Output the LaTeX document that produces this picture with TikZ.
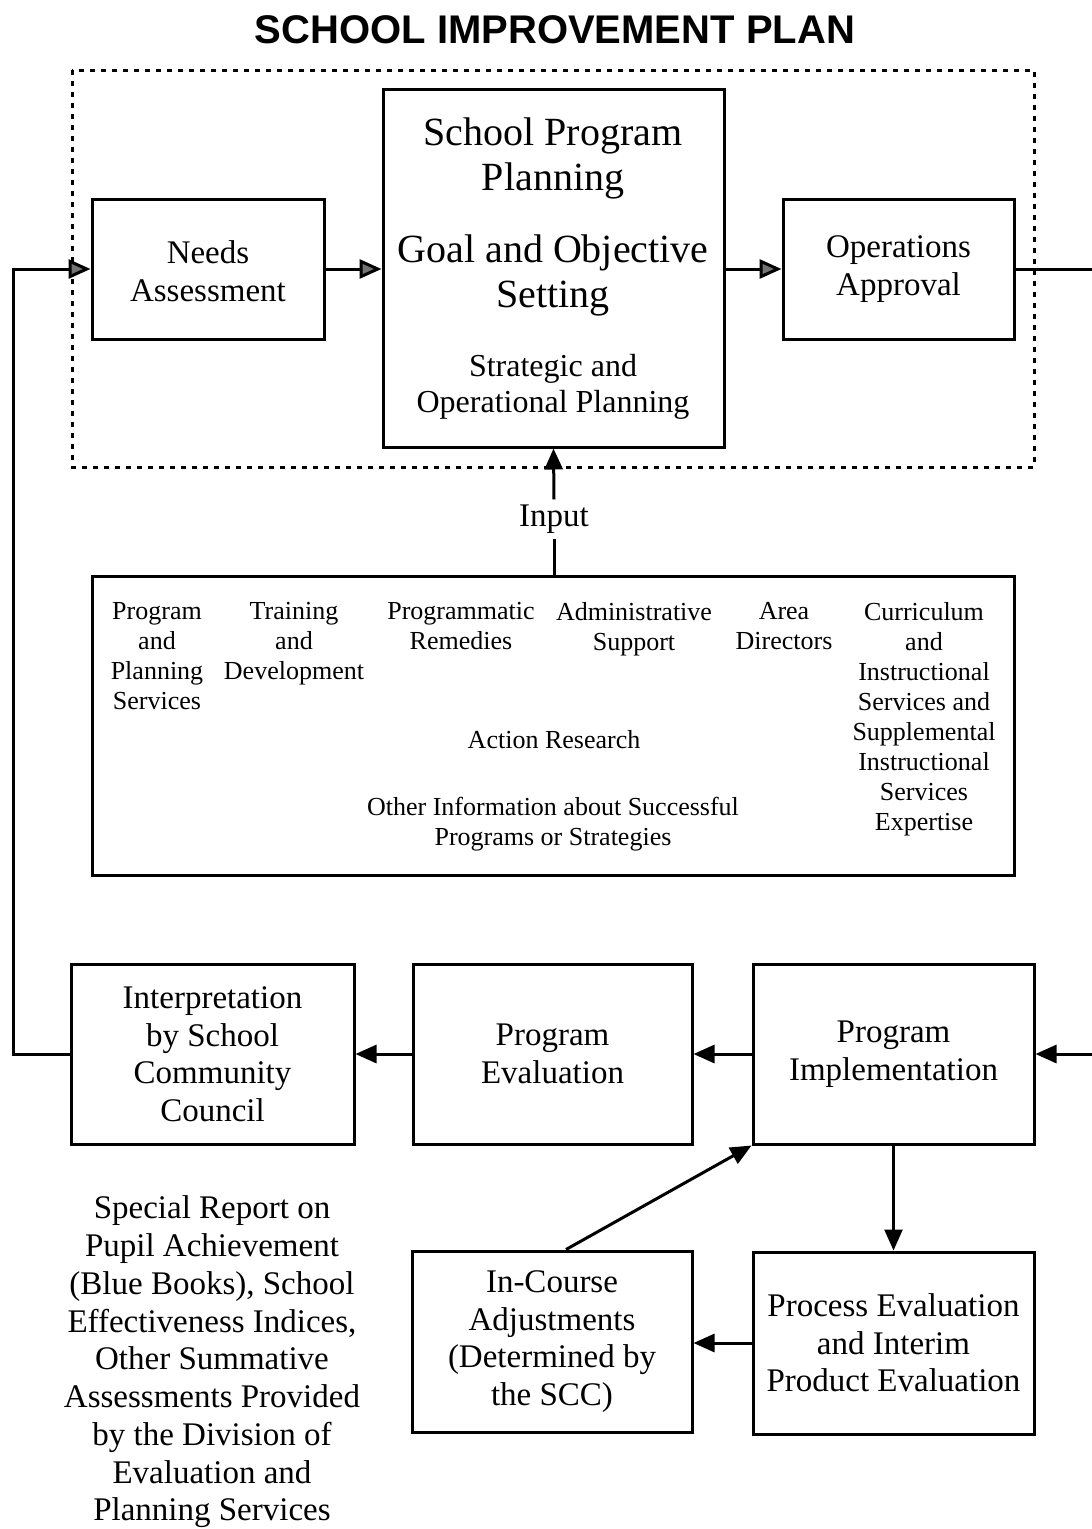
\documentclass[tikz,border=0pt]{standalone}
\usepackage{fontspec}
\setmainfont{Liberation Serif}
\setsansfont{Liberation Sans}
\usetikzlibrary{arrows.meta}
\begin{document}
\begin{tikzpicture}[x=1pt,y=-1pt,
  box/.style={draw,line width=3pt,inner sep=0pt,align=center,font=\fontsize{33}{37.5}\selectfont},
  arr/.style={line width=3pt,-{Triangle[length=21pt,width=18pt]}},
  arrg/.style={line width=3pt,-{Triangle[length=22pt,width=19pt,fill=black!55]}},
  coltext/.style={align=center,font=\fontsize{26}{30}\selectfont,anchor=north,inner sep=0pt},
  bigtext/.style={align=center,font=\fontsize{40}{45}\selectfont,inner sep=0pt},
  midtext/.style={align=center,font=\fontsize{32}{36}\selectfont,inner sep=0pt},
  plain/.style={align=center,font=\fontsize{33}{37.75}\selectfont,inner sep=0pt}]
\useasboundingbox (0,0) rectangle (1092,1529);

% title
\node[font=\fontsize{40}{48}\selectfont\sffamily\bfseries,inner sep=0pt] (title) at (555,30) {SCHOOL IMPROVEMENT PLAN};

% dotted frame
\draw[line width=3pt,dash pattern=on 5pt off 6pt] (72,70) rectangle (1034,467);

% top row
\node[box,minimum width=232pt,minimum height=140pt] (needs) at (208,269) {};
\node[box,draw=none] (needstext) at (208,271) {Needs\\Assessment};
\node[box,minimum width=341pt,minimum height=358pt] (main) at (553.5,268) {};
\node[bigtext] (spp) at (553,158) {School Program\\Planning};
\node[bigtext] (gos) at (553,275) {Goal and Objective\\Setting};
\node[midtext] (sop) at (553,387) {Strategic and\\Operational Planning};
\node[box,minimum width=231pt,minimum height=140pt] (ops) at (898.5,269) {Operations\\Approval};

% input box
\node[draw,line width=3pt,minimum width=922pt,minimum height=299pt,inner sep=0pt] (inbox) at (553,725.5) {};
\node[coltext] (c1) at (157,602) {Program\\and\\Planning\\Services};
\node[coltext] (c2) at (294,602) {Training\\and\\Development};
\node[coltext] (c3) at (461,602) {Programmatic\\Remedies};
\node[coltext] (c4) at (634,602) {Administrative\\Support};
\node[coltext] (c5) at (784,602) {Area\\Directors};
\node[coltext] (c6) at (924,602) {Curriculum\\and\\Instructional\\Services and\\Supplemental\\Instructional\\Services\\Expertise};
\node[align=center,font=\fontsize{26}{30}\selectfont,inner sep=0pt] (ar) at (554,740) {Action Research};
\node[align=center,font=\fontsize{26}{30}\selectfont,inner sep=0pt] (oi) at (553,824) {Other Information about Successful\\Programs or Strategies};

\node[font=\fontsize{33}{37.5}\selectfont,inner sep=5pt] (input) at (554,519) {Input};

% bottom boxes
\node[box,minimum width=283pt,minimum height=180pt] (interp) at (212.5,1054) {Interpretation\\by School\\Community\\Council};
\node[box,minimum width=279pt,minimum height=180pt] (eval) at (552.5,1054) {Program\\Evaluation};
\node[box,minimum width=281pt,minimum height=180pt] (impl) at (893.5,1054) {Program\\Implementation};
\node[box,minimum width=280pt,minimum height=181pt] (incourse) at (552,1341.5) {In-Course\\Adjustments\\(Determined by\\the SCC)};
\node[box,minimum width=281pt,minimum height=182pt] (process) at (893.5,1343) {Process Evaluation\\and Interim\\Product Evaluation};

\node[plain] (special) at (212,1362) {Special Report on\\Pupil Achievement\\(Blue Books), School\\Effectiveness Indices,\\Other Summative\\Assessments Provided\\by the Division of\\Evaluation and\\Planning Services};

% connectors
\draw[arrg] (needs.east) -- (main.west |- needs.east);
\draw[arrg] (main.east |- ops.west) -- (ops.west);
\draw[arrg] (interp.west) -- (13,1054) |- (needs.west);
\draw[arr] (ops.east) -- (1110,269) |- (impl.east);
\draw[line width=3pt] (input.south |- inbox.north) -- (input.south);
\draw[arr] (input.north) -- (main.south);
\draw[arr] (impl.west) -- (eval.east);
\draw[arr] (eval.west) -- (interp.east);
\draw[line width=2.5pt,-{Triangle[length=21pt,width=18pt]}] (impl.south) -- (process.north);
\draw[arr] (process.west) -- (incourse.east |- process.west);
\draw[arr] ([xshift=14pt]incourse.north) -- (impl.south west);
\end{tikzpicture}
\end{document}
